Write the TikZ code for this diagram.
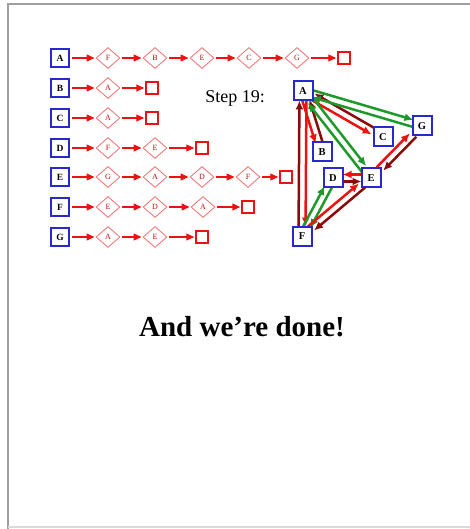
\documentclass[tikz,border=0pt]{standalone}
\usepackage{fontspec}
\setmainfont{Liberation Serif}
\usetikzlibrary{shapes.geometric,arrows.meta,calc,backgrounds}
\definecolor{lred}{HTML}{EE1111}
\definecolor{dred}{HTML}{8B0A0A}
\definecolor{grn}{HTML}{1E9A2A}
\definecolor{nblue}{HTML}{2828CC}
\definecolor{pinkd}{HTML}{F07878}
\newcommand\dedge[4]{%
  \coordinate (tmpo) at ($(#1)!3.5pt!#4:(#2)$);
  \draw[garr, #3, transform canvas={shift={($(tmpo)-(#1)$)}}] (#1) -- (#2);
}
\begin{document}
\begin{tikzpicture}[x=1pt,y=-1pt,
  vbox/.style={draw=nblue, line width=1.8pt, fill=white, minimum size=18pt, inner sep=0pt,
    font=\fontsize{9.5}{9.5}\selectfont\bfseries},
  gbox/.style={draw=nblue, line width=2pt, fill=white, minimum size=19pt, inner sep=0pt,
    font=\fontsize{10.5}{10.5}\selectfont\bfseries},
  dia/.style={diamond, draw=pinkd, line width=0.9pt, minimum width=24pt, minimum height=21pt,
    inner sep=0pt, text=lred!80!black, font=\fontsize{8}{8}\selectfont},
  endsq/.style={draw=lred, line width=1.5pt, minimum size=12pt, inner sep=0pt},
  larr/.style={lred, line width=1.1pt, -{Triangle[length=8pt,width=7pt]}, shorten <=2pt, shorten >=1pt},
  garr/.style={line width=2.5pt, -{Latex[length=9pt,width=8pt]}, shorten >=-1pt, shorten <=-3pt}]
\useasboundingbox (0,0) rectangle (470,529);
% frame
\draw[gray!75, line width=2pt] (8,529) -- (8,4) -- (470,4);
\draw[gray!30, line width=1.5pt] (8,527) -- (470,527);
% adjacency lists
\node[vbox] (LA) at (60,58) {A};
\node[dia] (LA1) at (108,58) {F};
\node[dia] (LA2) at (155,58) {B};
\node[dia] (LA3) at (202,58) {E};
\node[dia] (LA4) at (249,58) {C};
\node[dia] (LA5) at (297,58) {G};
\node[endsq] (LAe) at (344,58) {};
\draw[larr] (LA) -- (LA1); \draw[larr] (LA1) -- (LA2); \draw[larr] (LA2) -- (LA3);
\draw[larr] (LA3) -- (LA4); \draw[larr] (LA4) -- (LA5); \draw[larr] (LA5) -- (LAe);

\node[vbox] (LB) at (60,88) {B};
\node[dia] (LB1) at (108,88) {A};
\node[endsq] (LBe) at (152,88) {};
\draw[larr] (LB) -- (LB1); \draw[larr] (LB1) -- (LBe);

\node[vbox] (LC) at (60,118) {C};
\node[dia] (LC1) at (108,118) {A};
\node[endsq] (LCe) at (152,118) {};
\draw[larr] (LC) -- (LC1); \draw[larr] (LC1) -- (LCe);

\node[vbox] (LD) at (60,148) {D};
\node[dia] (LD1) at (108,148) {F};
\node[dia] (LD2) at (155,148) {E};
\node[endsq] (LDe) at (202,148) {};
\draw[larr] (LD) -- (LD1); \draw[larr] (LD1) -- (LD2); \draw[larr] (LD2) -- (LDe);

\node[vbox] (LE) at (60,177) {E};
\node[dia] (LE1) at (108,177) {G};
\node[dia] (LE2) at (155,177) {A};
\node[dia] (LE3) at (202,177) {D};
\node[dia] (LE4) at (248,177) {F};
\node[endsq] (LEe) at (286,177) {};
\draw[larr] (LE) -- (LE1); \draw[larr] (LE1) -- (LE2); \draw[larr] (LE2) -- (LE3);
\draw[larr] (LE3) -- (LE4); \draw[larr] (LE4) -- (LEe);

\node[vbox] (LF) at (60,207) {F};
\node[dia] (LF1) at (108,207) {E};
\node[dia] (LF2) at (155,207) {D};
\node[dia] (LF3) at (203,207) {A};
\node[endsq] (LFe) at (248,207) {};
\draw[larr] (LF) -- (LF1); \draw[larr] (LF1) -- (LF2); \draw[larr] (LF2) -- (LF3); \draw[larr] (LF3) -- (LFe);

\node[vbox] (LG) at (60,237) {G};
\node[dia] (LG1) at (108,237) {A};
\node[dia] (LG2) at (155,237) {E};
\node[endsq] (LGe) at (202,237) {};
\draw[larr] (LG) -- (LG1); \draw[larr] (LG1) -- (LG2); \draw[larr] (LG2) -- (LGe);

% step label
\node[font=\fontsize{18}{18}\selectfont] (step) at (235,98) {Step 19:};

% graph
\node[gbox] (GA) at (303,91) {A};
\node[gbox] (GB) at (322,152) {B};
\node[gbox] (GC) at (383,137) {C};
\node[gbox] (GG) at (422,126) {G};
\node[gbox] (GD) at (333,178) {D};
\node[gbox] (GE) at (371,178) {E};
\node[gbox] (GF) at (302,236) {F};

\begin{scope}[on background layer]
\dedge{GA}{GF}{lred}{90} \dedge{GF}{GA}{dred}{90}
\dedge{GA}{GB}{lred}{-90} \dedge{GB}{GA}{dred}{-90}
\dedge{GA}{GC}{lred}{-90} \dedge{GC}{GA}{dred}{-90}
\dedge{GA}{GE}{grn}{90} \dedge{GE}{GA}{grn}{90}
\dedge{GA}{GG}{grn}{90} \dedge{GG}{GA}{grn}{90}
\dedge{GD}{GF}{grn}{90} \dedge{GF}{GD}{grn}{90}
\dedge{GE}{GD}{lred}{-90} \dedge{GD}{GE}{dred}{-90}
\dedge{GF}{GE}{lred}{90} \dedge{GE}{GF}{dred}{90}
\dedge{GE}{GG}{lred}{90} \dedge{GG}{GE}{dred}{90}
\end{scope}

% title
\node[font=\fontsize{29}{29}\selectfont\bfseries] (title) at (242,327) {And we’re done!};
\end{tikzpicture}
\end{document}
